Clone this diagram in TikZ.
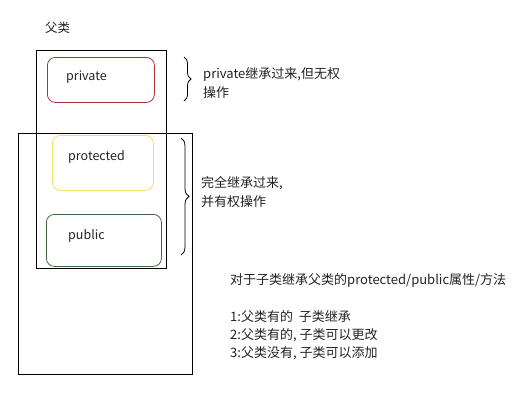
\documentclass[tikz,border=0pt]{standalone}
\usepackage{fontspec}
\setmainfont{Noto Sans CJK SC}
\usetikzlibrary{positioning,decorations.pathreplacing}
\definecolor{privred}{HTML}{A83232}
\definecolor{protyellow}{HTML}{F0E068}
\definecolor{pubgreen}{HTML}{3A6A3A}
\definecolor{notegray}{HTML}{222222}
\tikzset{
  classbox/.style={
    rectangle,
    draw=black,
    line width=1pt,
    anchor=north west,
    inner sep=0pt
  },
  memberbox/.style={
    rectangle,
    rounded corners=8pt,
    line width=0.8pt,
    anchor=north west,
    inner sep=0pt
  },
  memberlabel/.style={anchor=west, inner sep=0pt, text=notegray, font=\fontsize{12.5}{14}\selectfont},
  notetext/.style={anchor=north west, inner sep=0pt, align=left, text=notegray, font=\fontsize{13}{19}\selectfont},
  notebrace/.style={decorate, decoration={brace, amplitude=7pt}, line width=0.8pt}
}

\begin{document}
\begin{tikzpicture}[x=1pt, y=-1pt]
\useasboundingbox (0,0) rectangle (527,408);
% class boxes
\node[classbox, minimum width=174pt, minimum height=241pt] (child) at (18,133) {};
\node[classbox, minimum width=130pt, minimum height=218pt] (parent) at (36,50) {};
\node[memberlabel] (parentname) at (45,28) {父类};
% members
\node[memberbox, draw=privred, minimum width=107pt, minimum height=45pt] (private) at (47,57) {};
\node[memberbox, draw=protyellow, minimum width=101pt, minimum height=55pt] (protected) at (52,135) {};
\node[memberbox, draw=pubgreen, minimum width=115pt, minimum height=52pt] (public) at (46,214) {};
\node[memberlabel] (privatelbl) at (66,77) {private};
\node[memberlabel] (protectedlbl) at (68,157) {protected};
\node[memberlabel] (publiclbl) at (68,236) {public};
% braces
\coordinate (privtop) at (184,57);
\coordinate (privbot) at (184,101);
\coordinate (inhtop) at (181,138);
\coordinate (inhbot) at (181,255);
\draw[notebrace] (privtop) -- (privbot);
\draw[notebrace, decoration={amplitude=8pt}] (inhtop) -- (inhbot);
\node[notetext] (privnote) at (203,67) {private继承过来,但无权\\操作};
\node[notetext] (inhnote) at (201,176) {完全继承过来,\\并有权操作};
% summary
\node[notetext] (summary) at (230,273) {对于子类继承父类的protected/public属性/方法};
\node[notetext, font=\fontsize{13}{18}\selectfont] (rules) at (230,310) {1:父类有的\ \ 子类继承\\2:父类有的,\ 子类可以更改\\3:父类没有,\ 子类可以添加};
\end{tikzpicture}
\end{document}
